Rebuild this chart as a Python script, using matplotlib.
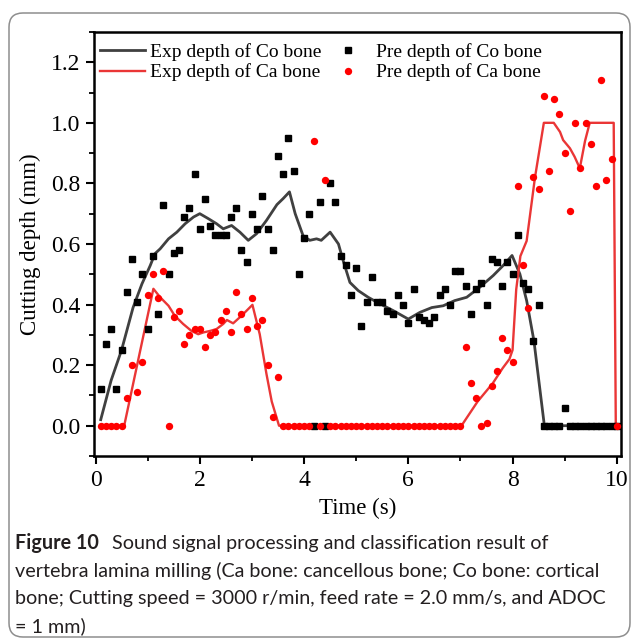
import matplotlib
matplotlib.use("Agg")
import matplotlib.pyplot as plt
from matplotlib.lines import Line2D
from matplotlib.patches import FancyBboxPatch
from matplotlib import font_manager
from matplotlib.ticker import MultipleLocator

# sampling times of the predicted depth (s)
time_s = [0.1, 0.2, 0.3, 0.4, 0.5, 0.6, 0.7, 0.8, 0.9, 1.0,
          1.1, 1.2, 1.3, 1.4, 1.5, 1.6, 1.7, 1.8, 1.9, 2.0,
          2.1, 2.2, 2.3, 2.4, 2.5, 2.6, 2.7, 2.8, 2.9, 3.0,
          3.1, 3.2, 3.3, 3.4, 3.5, 3.6, 3.7, 3.8, 3.9, 4.0,
          4.1, 4.2, 4.3, 4.4, 4.5, 4.6, 4.7, 4.8, 4.9, 5.0,
          5.1, 5.2, 5.3, 5.4, 5.5, 5.6, 5.7, 5.8, 5.9, 6.0,
          6.1, 6.2, 6.3, 6.4, 6.5, 6.6, 6.7, 6.8, 6.9, 7.0,
          7.1, 7.2, 7.3, 7.4, 7.5, 7.6, 7.7, 7.8, 7.9, 8.0,
          8.1, 8.2, 8.3, 8.4, 8.5, 8.6, 8.7, 8.8, 8.9, 9.0,
          9.1, 9.2, 9.3, 9.4, 9.5, 9.6, 9.7, 9.8, 9.9, 10.0]

# predicted cutting depth, cortical bone (mm)
pre_co = [0.12, 0.27, 0.32, 0.12, 0.25, 0.44, 0.55, 0.41, 0.50, 0.32,
          0.56, 0.37, 0.73, 0.50, 0.57, 0.58, 0.69, 0.72, 0.83, 0.65,
          0.75, 0.66, 0.63, 0.63, 0.63, 0.69, 0.72, 0.58, 0.54, 0.70,
          0.65, 0.76, 0.65, 0.58, 0.89, 0.83, 0.95, 0.84, 0.50, 0.62,
          0.70, 0.00, 0.74, 0.00, 0.80, 0.74, 0.56, 0.53, 0.43, 0.52,
          0.33, 0.41, 0.49, 0.41, 0.41, 0.38, 0.37, 0.43, 0.40, 0.34,
          0.45, 0.36, 0.35, 0.34, 0.36, 0.43, 0.45, 0.40, 0.51, 0.51,
          0.46, 0.37, 0.45, 0.47, 0.40, 0.55, 0.54, 0.46, 0.54, 0.50,
          0.63, 0.47, 0.45, 0.28, 0.40, 0.00, 0.00, 0.00, 0.00, 0.06,
          0.00, 0.00, 0.00, 0.00, 0.00, 0.00, 0.00, 0.00, 0.00, 0.00]

# predicted cutting depth, cancellous bone (mm)
pre_ca = [0.00, 0.00, 0.00, 0.00, 0.00, 0.09, 0.20, 0.11, 0.21, 0.43,
          0.50, 0.42, 0.51, 0.00, 0.36, 0.38, 0.27, 0.30, 0.32, 0.32,
          0.26, 0.30, 0.31, 0.35, 0.38, 0.31, 0.44, 0.37, 0.32, 0.42,
          0.33, 0.35, 0.20, 0.03, 0.16, 0.00, 0.00, 0.00, 0.00, 0.00,
          0.00, 0.94, 0.00, 0.81, 0.00, 0.00, 0.00, 0.00, 0.00, 0.00,
          0.00, 0.00, 0.00, 0.00, 0.00, 0.00, 0.00, 0.00, 0.00, 0.00,
          0.00, 0.00, 0.00, 0.00, 0.00, 0.00, 0.00, 0.00, 0.00, 0.00,
          0.26, 0.14, 0.09, 0.00, 0.01, 0.13, 0.18, 0.29, 0.25, 0.21,
          0.79, 0.53, 0.39, 0.82, 0.78, 1.09, 0.84, 1.08, 1.03, 0.90,
          0.71, 1.00, 0.85, 1.00, 0.93, 0.79, 1.14, 0.81, 0.88, 0.00]

# experimental depth curves (time, depth)
exp_co_t = [0.1, 0.3, 0.5, 0.72, 0.89, 1.05, 1.14, 1.24, 1.4, 1.56, 1.72, 1.88,
            2.0, 2.16, 2.32, 2.45, 2.61, 2.77, 2.93, 3.09, 3.28, 3.48, 3.6, 3.72,
            3.83, 3.98, 4.11, 4.24, 4.33, 4.5, 4.66, 4.75, 4.88, 5.04, 5.23, 5.46,
            5.71, 6.0, 6.22, 6.45, 6.67, 6.89, 7.12, 7.37, 7.63, 7.82, 7.99, 8.14,
            8.27, 8.41, 8.61, 10.0]
exp_co_d = [0.02, 0.15, 0.25, 0.39, 0.468, 0.529, 0.568, 0.584, 0.617, 0.639, 0.667, 0.689,
            0.70, 0.684, 0.667, 0.65, 0.661, 0.639, 0.612, 0.634, 0.678, 0.73, 0.75, 0.772,
            0.70, 0.628, 0.612, 0.617, 0.612, 0.639, 0.60, 0.545, 0.473, 0.446, 0.424, 0.402,
            0.38, 0.352, 0.374, 0.39, 0.396, 0.413, 0.424, 0.457, 0.496, 0.529, 0.562, 0.501,
            0.413, 0.28, 0.0, 0.0]

exp_ca_t = [0.1, 0.55, 1.11, 1.24, 1.4, 1.52, 1.68, 1.84, 1.97, 2.07, 2.2, 2.32,
            2.45, 2.52, 2.64, 2.8, 3.01, 3.15, 3.28, 3.38, 3.52, 7.02, 7.33, 7.62,
            7.81, 7.94, 8.0, 8.07, 8.15, 8.27, 8.43, 8.6, 8.79, 8.91, 8.97, 9.1,
            9.19, 9.29, 9.39, 9.48, 9.94, 9.98]
exp_ca_d = [0.0, 0.0, 0.452, 0.424, 0.396, 0.363, 0.336, 0.313, 0.302, 0.308, 0.313, 0.319,
            0.336, 0.349, 0.338, 0.363, 0.399, 0.302, 0.17, 0.08, 0.0, 0.0, 0.08, 0.14,
            0.19, 0.22, 0.25, 0.45, 0.56, 0.61, 0.82, 1.0, 1.0, 0.97, 0.943, 0.916,
            0.888, 0.85, 0.94, 1.0, 1.0, 0.0]

caption_lines = [
    "vertebra lamina milling (Ca bone: cancellous bone; Co bone: cortical",
    "bone; Cutting speed = 3000 r/min, feed rate = 2.0 mm/s, and ADOC",
    "= 1 mm)",
]

installed = {f.name for f in font_manager.fontManager.ttflist}
serif = "Liberation Serif"
cap_font = "Liberation Sans Narrow" if "Liberation Sans Narrow" in installed else "Lato"

co_line = "#404040"
ca_line = "#ea3636"
ca_dot = "#ff0000"

fig = plt.figure(figsize=(6.32, 6.39), dpi=100)
ax = fig.add_axes([0.1495, 0.2864, 0.8331, 0.6636])

ax.plot(exp_co_t, exp_co_d, color=co_line, lw=2.0, zorder=2)
ax.plot(exp_ca_t, exp_ca_d, color=ca_line, lw=1.7, zorder=2)
ax.plot(time_s, pre_co, ls="none", marker="s", ms=5.0, color="black", zorder=3)
ax.plot(time_s, pre_ca, ls="none", marker="o", ms=5.3, color=ca_dot, mec="none", zorder=4)

ax.set_xlim(-0.02, 10.08)
ax.set_ylim(-0.1, 1.3)
ax.xaxis.set_major_locator(MultipleLocator(2))
ax.xaxis.set_minor_locator(MultipleLocator(1))
ax.yaxis.set_minor_locator(MultipleLocator(0.1))
ax.set_yticks([0.0, 0.2, 0.4, 0.6, 0.8, 1.0, 1.2])
ax.set_yticklabels(["0.0", "0.2", "0.4", "0.6", "0.8", "1.0", "1.2"])

for s in ax.spines.values():
    s.set_linewidth(1.8)
ax.tick_params(which="major", direction="out", length=6, width=1.5, labelsize=17, pad=4)
ax.tick_params(which="minor", direction="out", length=3.5, width=1.3)
for lab in ax.get_xticklabels() + ax.get_yticklabels():
    lab.set_fontfamily(serif)

ax.set_xlabel("Time (s)", fontsize=16.5, family=serif, labelpad=5)
ax.set_ylabel("Cutting depth (mm)", fontsize=16.5, family=serif, labelpad=7)

handles = [
    Line2D([], [], color=co_line, lw=2.0),
    Line2D([], [], color=ca_line, lw=1.7),
    Line2D([], [], ls="none", marker="s", ms=5.0, color="black"),
    Line2D([], [], ls="none", marker="o", ms=5.3, color=ca_dot, mec="none"),
]
labels = ["Exp depth of Co bone", "Exp depth of Ca bone",
          "Pre depth of Co bone", "Pre depth of Ca bone"]
ax.legend(handles, labels, ncol=2, loc="upper left", bbox_to_anchor=(-0.01, 1.0),
          frameon=False, prop={"family": serif, "size": 14},
          handlelength=2.3, handletextpad=0.3, columnspacing=0.2,
          labelspacing=0.15, borderaxespad=0.35, borderpad=0.2)

# caption under the plot
cap_color = "#231f20"
cap_size = 14.2
x0 = 15 / 632
fig.canvas.draw()
renderer = fig.canvas.get_renderer()
head = fig.text(x0, 1 - 543 / 639, "Figure 10", fontsize=cap_size, family=cap_font,
                weight="bold", color=cap_color, va="center")
bb = head.get_window_extent(renderer)
fig.text(bb.x1 / fig.bbox.width + 0.02, 1 - 543 / 639,
         "Sound signal processing and classification result of",
         fontsize=cap_size, family=cap_font, color=cap_color, va="center")
for i, line in enumerate(caption_lines):
    fig.text(x0, 1 - (571 + 27.5 * i) / 639, line, fontsize=cap_size, family=cap_font,
             color=cap_color, va="center")

frame = FancyBboxPatch((9 / 632, 2 / 639), 621 / 632, 624 / 639,
                       boxstyle="round,pad=0,rounding_size=0.022",
                       transform=fig.transFigure, fill=False,
                       ec="#8e8e8e", lw=1.1)
fig.patches.append(frame)

fig.savefig("out.png", dpi=100)
